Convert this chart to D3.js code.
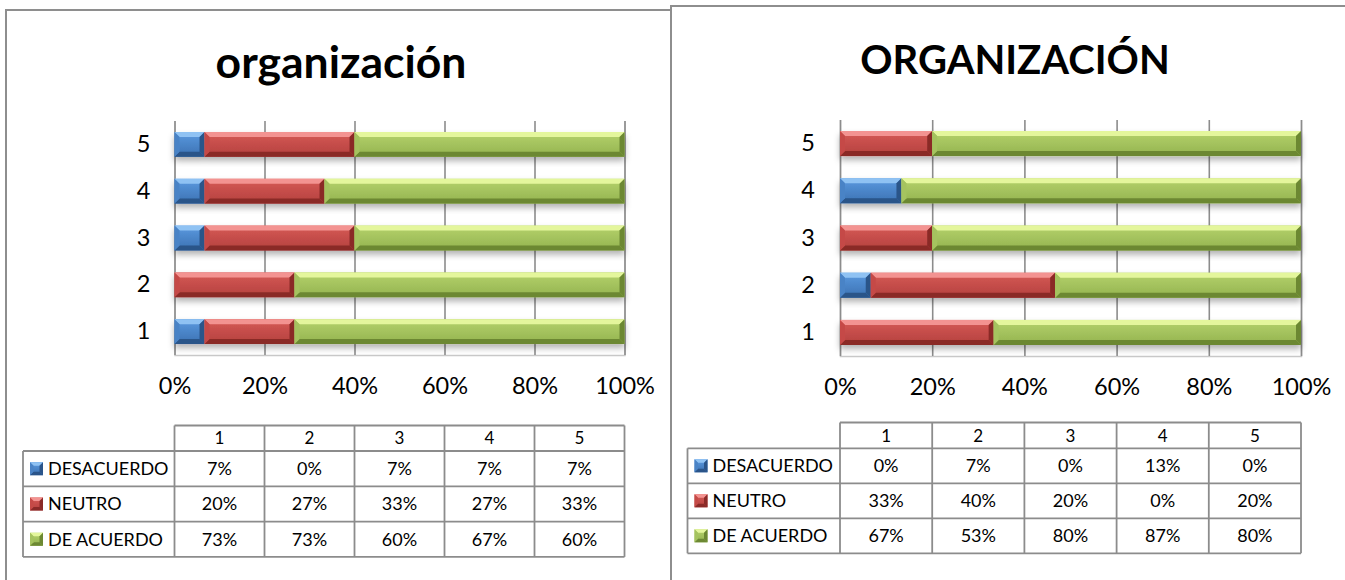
<!DOCTYPE html>
<html>
<head>
<meta charset="utf-8">
<script src="https://cdn.jsdelivr.net/npm/d3@7"></script>
<style>
  body { margin: 0; background: #fff; }
  svg { display: block; font-family: Lato, "Open Sans", sans-serif; }
</style>
</head>
<body>
<svg id="chart" width="1345" height="580"></svg>
<script>
var categories = ["1", "2", "3", "4", "5"]
var seriesNames = ["DESACUERDO", "NEUTRO", "DE ACUERDO"]
var xTicks = [0, 20, 40, 60, 80, 100]

var leftTitle = "organización"
var leftDesacuerdo = [6.67, 0, 6.67, 6.67, 6.67]
var leftNeutro = [20, 26.67, 33.33, 26.67, 33.33]
var leftAcuerdo = [73.33, 73.33, 60, 66.67, 60]

var rightTitle = "ORGANIZACIÓN"
var rightDesacuerdo = [0, 6.67, 0, 13.33, 0]
var rightNeutro = [33.33, 40, 20, 0, 20]
var rightAcuerdo = [66.67, 53.33, 80, 86.67, 80]

var svg = d3.select("#chart")
var defs = svg.append("defs")

// bevel colours per series
var palette = {
  "DESACUERDO": {top: "#8fc2f3", faceA: "#5b9ae0", faceB: "#3b71b2", bottom: "#2a5489", side: "#4a83c6"},
  "NEUTRO": {top: "#f39391", faceA: "#d65a57", faceB: "#b4403d", bottom: "#8a2a28", side: "#c54a47"},
  "DE ACUERDO": {top: "#e4f69c", faceA: "#b5d26c", faceB: "#93b34f", bottom: "#6c8833", side: "#a5c35f"}
}

seriesNames.forEach(function(s, i) {
  var gr = defs.append("linearGradient").attr("id", "face" + i)
    .attr("x1", 0).attr("y1", 0).attr("x2", 0).attr("y2", 1)
  gr.append("stop").attr("offset", "0%").attr("stop-color", palette[s].faceA)
  gr.append("stop").attr("offset", "100%").attr("stop-color", palette[s].faceB)
})

var shadow = defs.append("filter").attr("id", "shadow")
  .attr("x", "-5%").attr("y", "-20%").attr("width", "110%").attr("height", "160%")
shadow.append("feDropShadow").attr("dx", 0).attr("dy", 4).attr("stdDeviation", 3)
  .attr("flood-color", "#000").attr("flood-opacity", 0.3)

function bevelBox(g, x0, x1, y0, y1, idx, size) {
  var w = x1 - x0
  if (w <= 0.5) return
  var c = palette[seriesNames[idx]]
  var b = Math.min(size, w / 2, (y1 - y0) / 2)
  g.append("rect").attr("x", x0).attr("y", y0).attr("width", w).attr("height", y1 - y0)
    .attr("fill", "url(#face" + idx + ")")
  var poly = function(pts, fill) {
    g.append("polygon").attr("points", pts.map(function(p) { return p.join(",") }).join(" ")).attr("fill", fill)
  }
  poly([[x0, y0], [x1, y0], [x1 - b, y0 + b], [x0 + b, y0 + b]], c.top)
  poly([[x0, y1], [x1, y1], [x1 - b, y1 - b], [x0 + b, y1 - b]], c.bottom)
  poly([[x0, y0], [x0 + b, y0 + b], [x0 + b, y1 - b], [x0, y1]], c.side)
  poly([[x1, y0], [x1 - b, y0 + b], [x1 - b, y1 - b], [x1, y1]], c.bottom)
}

function drawPanel(cfg) {
  var rows = categories.map(function(c, i) {
    return {cat: c, "DESACUERDO": cfg.des[i], "NEUTRO": cfg.neu[i], "DE ACUERDO": cfg.acu[i]}
  })
  var stacked = d3.stack().keys(seriesNames).offset(d3.stackOffsetExpand)(rows)

  var x = d3.scaleLinear().domain([0, 1]).range([cfg.x0, cfg.x1])
  var y = d3.scaleBand().domain(categories.slice().reverse())
    .range([cfg.y0, cfg.y1]).paddingInner(0.47).paddingOuter(0.235)

  // title
  svg.append("text").attr("x", cfg.titleX).attr("y", cfg.titleY)
    .attr("text-anchor", "middle").attr("font-size", cfg.titleSize).attr("font-weight", "bold")
    .attr("fill", "#000").text(cfg.title)

  // grid + bottom axis
  var gx = svg.append("g").attr("transform", "translate(0," + cfg.y1 + ")")
    .call(d3.axisBottom(x).tickValues(xTicks.map(function(t) { return t / 100 }))
      .tickSize(-(cfg.y1 - cfg.y0)).tickPadding(22)
      .tickFormat(function(d) { return Math.round(d * 100) + "%" }))
  gx.select(".domain").attr("stroke", "#c8c8c8").attr("stroke-width", 1.5)
  gx.selectAll(".tick line").attr("stroke", "#8c8c8c").attr("stroke-width", 1.6)
  gx.selectAll(".tick text").attr("font-size", 23.5).attr("fill", "#000").attr("font-family", "Lato")

  // y labels
  var gy = svg.append("g").attr("transform", "translate(" + cfg.x0 + ",0)")
    .call(d3.axisLeft(y).tickSize(0).tickPadding(cfg.yPad))
  gy.select(".domain").remove()
  gy.selectAll(".tick text").attr("font-size", 23.5).attr("fill", "#000").attr("font-family", "Lato")

  // bars
  categories.forEach(function(c, ci) {
    var g = svg.append("g").attr("filter", "url(#shadow)")
    stacked.forEach(function(layer, si) {
      var d = layer[ci]
      bevelBox(g, x(d[0]), x(d[1]), y(c), y(c) + y.bandwidth(), si, 5)
    })
  })

  // data table
  var t = cfg.table
  var colEdges = xTicks.map(function(v) { return x(v / 100) })
  var rowEdges = [t.top + t.head]
  seriesNames.forEach(function(s, i) { rowEdges.push(t.top + t.head + (i + 1) * t.row) })
  var tg = svg.append("g").attr("stroke", "#8c8c8c").attr("stroke-width", 1.8).attr("fill", "none")
  tg.append("line").attr("x1", cfg.x0).attr("x2", cfg.x1).attr("y1", t.top).attr("y2", t.top)
  rowEdges.forEach(function(ry) {
    tg.append("line").attr("x1", t.left).attr("x2", cfg.x1).attr("y1", ry).attr("y2", ry)
  })
  tg.append("line").attr("x1", t.left).attr("x2", t.left).attr("y1", rowEdges[0]).attr("y2", rowEdges[3])
  colEdges.forEach(function(cx) {
    tg.append("line").attr("x1", cx).attr("x2", cx).attr("y1", t.top).attr("y2", rowEdges[3])
  })

  categories.forEach(function(c, ci) {
    var cx = (colEdges[ci] + colEdges[ci + 1]) / 2
    svg.append("text").attr("x", cx).attr("y", t.top + t.head / 2).attr("dy", "0.36em")
      .attr("text-anchor", "middle").attr("font-size", 17).text(c)
    stacked.forEach(function(layer, si) {
      var d = layer[ci]
      svg.append("text").attr("x", cx).attr("y", rowEdges[si] + t.row / 2).attr("dy", "0.36em")
        .attr("text-anchor", "middle").attr("font-size", 18)
        .text(Math.round((d[1] - d[0]) * 100) + "%")
    })
  })
  seriesNames.forEach(function(s, si) {
    var cy = rowEdges[si] + t.row / 2
    var ig = svg.append("g")
    bevelBox(ig, t.left + 7, t.left + 20, cy - 6.5, cy + 6.5, si, 3.5)
    svg.append("text").attr("x", t.left + 25).attr("y", cy).attr("dy", "0.36em")
      .attr("font-size", 18).text(s)
  })
}

// panel frames
svg.append("path").attr("d", "M6,580V10H671V580").attr("fill", "none")
  .attr("stroke", "#8e8e8e").attr("stroke-width", 2)
svg.append("path").attr("d", "M671,580V6H1345").attr("fill", "none")
  .attr("stroke", "#8e8e8e").attr("stroke-width", 2)

drawPanel({
  title: leftTitle, titleX: 341, titleY: 78, titleSize: 44.5,
  des: leftDesacuerdo, neu: leftNeutro, acu: leftAcuerdo,
  x0: 174.5, x1: 624.5, y0: 121, y1: 355, yPad: 24,
  table: {left: 23, top: 425.5, head: 25.5, row: 35.3}
})

drawPanel({
  title: rightTitle, titleX: 1015, titleY: 74, titleSize: 40,
  des: rightDesacuerdo, neu: rightNeutro, acu: rightAcuerdo,
  x0: 840, x1: 1301, y0: 120, y1: 356, yPad: 25,
  table: {left: 687.5, top: 422.5, head: 25.8, row: 35}
})
</script>
</body>
</html>
